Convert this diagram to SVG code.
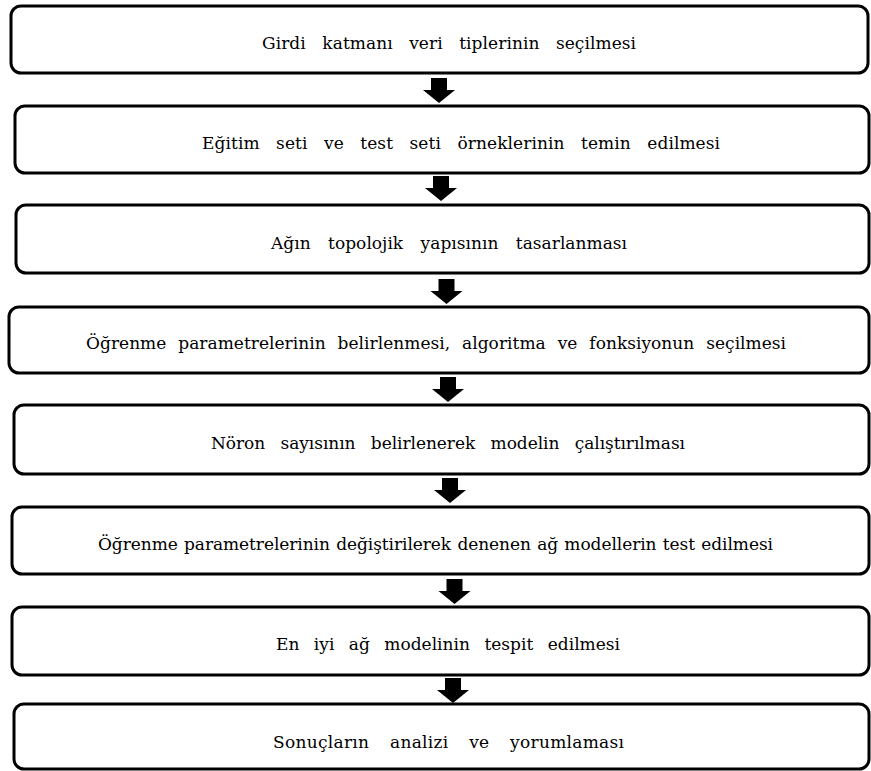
<svg xmlns="http://www.w3.org/2000/svg" xmlns:xlink="http://www.w3.org/1999/xlink" width="871" height="771" viewBox="0 0 871 771">
<style>
.box{fill:#fff;stroke:#000;stroke-width:3}
.lbl{font-family:'DejaVu Serif',serif;font-size:17px;fill:#000}
.arr{fill:#000}
</style>
<defs>
<path id="ar" d="M-8,0 H8 V12 H16 L0,25 L-16,12 H-8 Z"/>
</defs>
<rect width="871" height="771" fill="#fff"/>
<g id="connectors">
<use xlink:href="#ar" class="arr" transform="translate(439,78)"/>
<use xlink:href="#ar" class="arr" transform="translate(441,176)"/>
<use xlink:href="#ar" class="arr" transform="translate(446.5,279)"/>
<use xlink:href="#ar" class="arr" transform="translate(448,377)"/>
<use xlink:href="#ar" class="arr" transform="translate(450,478)"/>
<use xlink:href="#ar" class="arr" transform="translate(454.5,579)"/>
<use xlink:href="#ar" class="arr" transform="translate(453,678)"/>
</g>
<g id="n1"><rect class="box" x="11" y="6" width="857" height="67" rx="10"/><text class="lbl" x="262" y="49" textLength="374" lengthAdjust="spacing" word-spacing="11">Girdi katmanı veri tiplerinin seçilmesi</text></g>
<g id="n2"><rect class="box" x="15" y="106" width="854" height="67" rx="10"/><text class="lbl" x="202" y="148.5" textLength="518" lengthAdjust="spacing" word-spacing="11">Eğitim seti ve test seti örneklerinin temin edilmesi</text></g>
<g id="n3"><rect class="box" x="16" y="205" width="853" height="68" rx="10"/><text class="lbl" x="271" y="248.5" textLength="356" lengthAdjust="spacing" word-spacing="12">Ağın topolojik yapısının tasarlanması</text></g>
<g id="n4"><rect class="box" x="9" y="307" width="860" height="66" rx="10"/><text class="lbl" x="86" y="349" textLength="700" lengthAdjust="spacing" word-spacing="6.5">Öğrenme parametrelerinin belirlenmesi, algoritma ve fonksiyonun seçilmesi</text></g>
<g id="n5"><rect class="box" x="14" y="405" width="855" height="69" rx="10"/><text class="lbl" x="211" y="448.5" textLength="474" lengthAdjust="spacing" word-spacing="10">Nöron sayısının belirlenerek modelin çalıştırılması</text></g>
<g id="n6"><rect class="box" x="12" y="507" width="857" height="67" rx="10"/><text class="lbl" x="98" y="549.5" textLength="675" lengthAdjust="spacing" word-spacing="1">Öğrenme parametrelerinin değiştirilerek denenen ağ modellerin test edilmesi</text></g>
<g id="n7"><rect class="box" x="12" y="607" width="857" height="68" rx="10"/><text class="lbl" x="276" y="649.5" textLength="344" lengthAdjust="spacing" word-spacing="9">En iyi ağ modelinin tespit edilmesi</text></g>
<g id="n8"><rect class="box" x="14" y="704" width="855" height="65" rx="10"/><text class="lbl" x="273" y="748" textLength="351" lengthAdjust="spacing" word-spacing="15">Sonuçların analizi ve yorumlaması</text></g>
</svg>
